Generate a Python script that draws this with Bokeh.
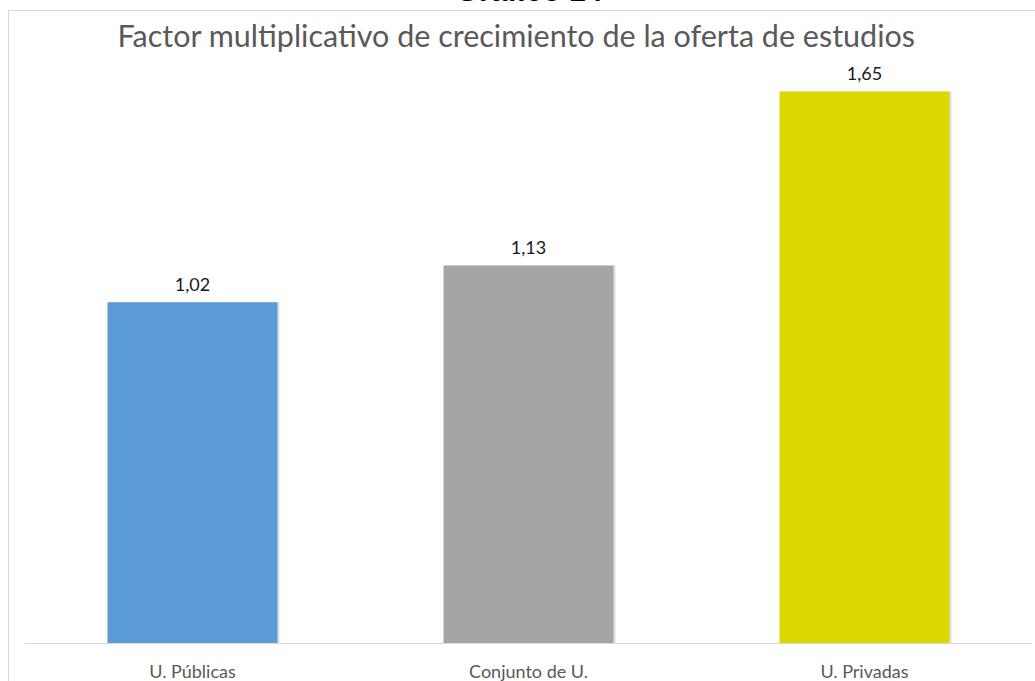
from bokeh.plotting import figure
from bokeh.models import ColumnDataSource, Div, FactorRange, Span
from bokeh.layouts import column
from bokeh.transform import dodge
from bokeh.embed import file_html
from bokeh.resources import INLINE
from bokeh.core.properties import value

header = "Gráfico 14"
title = "Factor multiplicativo de crecimiento de la oferta de estudios"
categories = ["U. Públicas", "Conjunto de U.", "U. Privadas"]
values = [1.02, 1.13, 1.65]
colors = ["#5B9BD5", "#A5A5A5", "#DDD700"]
labels = [f"{v:.2f}".replace(".", ",") for v in values]

src = ColumnDataSource(dict(cat=categories, val=values, color=colors, label=labels))

PX = 334.5  # pixels per unit
T = 42
H = 671
BASE = 633
p = figure(
    x_range=FactorRange(*categories, range_padding=0),
    y_range=(-(H - BASE) / PX, (BASE - T) / PX),
    width=1027, height=H,
    output_backend="svg", toolbar_location=None,
    min_border_left=16, min_border_right=3, min_border_top=T, min_border_bottom=0,
    title=title, margin=(0, 0, 0, 8),
)
p.border_fill_color = None
p.styles = {"box-shadow": "inset 1px 1px 0 0 #d9d9d9"}
p.title.align = "left"
p.title.offset = 93
p.title.text_font = "Lato"
p.title.text_font_size = "30.5px"
p.title.text_font_style = "normal"
p.title.text_color = "#595959"
p.title.standoff = 0
p.axis.visible = False
p.grid.visible = False
p.outline_line_color = None

p.vbar(x=dodge("cat", 0.006, range=p.x_range), top="val", bottom=0, width=0.506,
       fill_color="#000000", fill_alpha=0.12, line_color=None, source=src)
p.vbar(x="cat", top="val", bottom=0, width=0.506, fill_color="color", line_color=None, source=src)
p.add_layout(Span(location=0, dimension="width", line_color="#d9d9d9", line_width=1))

p.text(x="cat", y="val", text="label", source=src, text_align="center", text_baseline="alphabetic",
       y_offset=-18, text_font=value("Lato"), text_font_size="18px", text_color="#1a1a1a")
p.text(x="cat", y=0, text="cat", source=src, text_align="center", text_baseline="alphabetic",
       y_offset=27, text_font=value("Lato"), text_font_size="18px", text_color="#595959")

div = Div(
    text=('<div style="position:absolute;left:379px;top:-26px;width:300px;text-align:center;'
          'font:bold 30px \'Liberation Sans\';color:#000;white-space:nowrap">' + header + '</div>'),
    width=1035, height=10, margin=(0, 0, 0, 0), styles={"overflow": "visible"},
)

layout = column(div, p, spacing=0)
open("out.html", "w").write(file_html(layout, INLINE))
